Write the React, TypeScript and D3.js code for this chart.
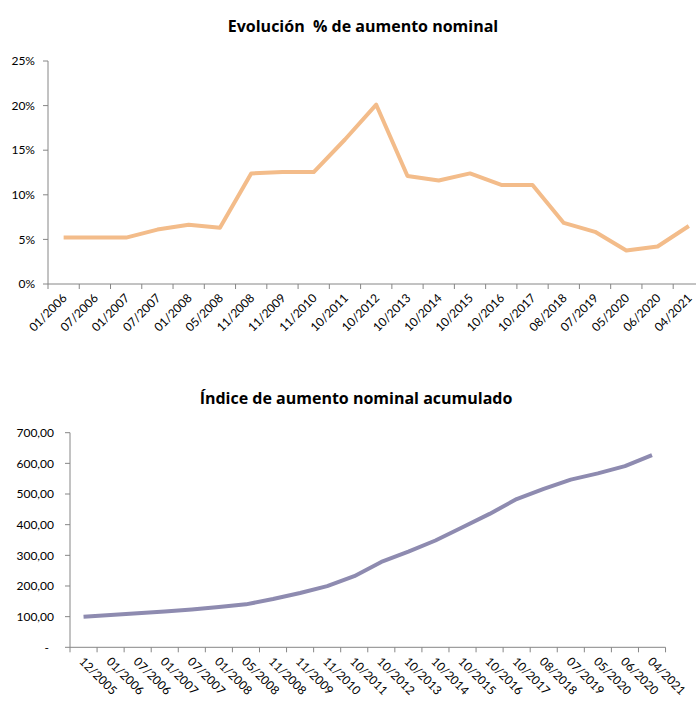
import React from "react";
import * as d3 from "d3";

const cats1 = ["01/2006","07/2006","01/2007","07/2007","01/2008","05/2008","11/2008","11/2009","11/2010","10/2011","10/2012","10/2013","10/2014","10/2015","10/2016","10/2017","08/2018","07/2019","05/2020","06/2020","04/2021"];
const pctValues = [5.2,5.2,5.2,6.1,6.65,6.3,12.4,12.55,12.55,16.2,20.1,12.1,11.6,12.4,11.1,11.1,6.85,5.85,3.75,4.2,6.5];
const pctTicks = [0,5,10,15,20,25];

const cats2 = ["12/2005", ...cats1];
const idxValues = [100,105.2,110.7,116.4,123.6,131.8,140.1,157.5,177.3,199.5,231.9,278.5,312.2,348.4,391.6,435.1,483.4,516.5,546.8,567.3,591.1,627];
const idxTicks = [0,100,200,300,400,500,600,700];

const FONT = "Lato, 'Open Sans', sans-serif";
const TITLE_FONT = "'Open Sans', Lato, sans-serif";
const AXIS = "#868686";

export default function App() {
  // top chart
  const x1 = d3.scaleBand<string>().domain(cats1).range([48, 48 + 21 * 31.26]);
  const y1 = d3.scaleLinear().domain([0, 25]).range([284, 61]);
  const line1 = d3.line<number>()
    .x((_, i) => (x1(cats1[i]) as number) + x1.bandwidth() / 2)
    .y((d) => y1(d));

  // bottom chart
  const x2 = d3.scaleBand<string>().domain(cats2).range([70, 70 + 22 * 27.07]);
  const y2 = d3.scaleLinear().domain([0, 700]).range([647.3, 432.7]);
  const line2 = d3.line<number>()
    .x((_, i) => (x2(cats2[i]) as number) + x2.bandwidth() / 2)
    .y((d) => y2(d));

  const fmtIdx = (v: number) => (v === 0 ? "-" : d3.format(".2f")(v).replace(".", ","));

  return (
    <div style={{ position: "absolute", left: 0, top: 0 }}>
      <svg width={696} height={702} style={{ display: "block", background: "#fff" }} fontFamily={FONT}>
        {/* Top title */}
        <text x={363} y={32} textAnchor="middle" fontSize={16} fontWeight="bold" fill="#000" fontFamily={TITLE_FONT} style={{ whiteSpace: "pre" }}>
          {"Evolución  % de aumento nominal"}
        </text>
        {/* Top y axis */}
        <line x1={48} x2={48} y1={y1(25)} y2={y1(0)} stroke={AXIS} />
        {pctTicks.map((t) => (
          <g key={t}>
            <line x1={43} x2={48} y1={y1(t)} y2={y1(t)} stroke={AXIS} />
            <text x={35} y={y1(t)} dy="0.35em" textAnchor="end" fontSize={12} fill="#000">{t + "%"}</text>
          </g>
        ))}
        {/* Top x axis */}
        <line x1={48} x2={710} y1={y1(0)} y2={y1(0)} stroke={AXIS} />
        {cats1.map((c) => (
          <line key={"t" + c} x1={x1(c) as number} x2={x1(c) as number} y1={y1(0)} y2={y1(0) + 5} stroke={AXIS} />
        ))}
        {cats1.map((c) => {
          const cx = (x1(c) as number) + x1.bandwidth() / 2 - 2;
          const cy = y1(0) + 9;
          return (
            <text key={"l" + c} x={cx} y={cy} transform={`rotate(-45 ${cx} ${cy})`} textAnchor="end" dy="0.7em" fontSize={12} fill="#000">{c}</text>
          );
        })}
        <path d={line1(pctValues) || ""} fill="none" stroke="#F3BC8A" strokeWidth={4} strokeLinejoin="round" />

        {/* Bottom title */}
        <text x={356} y={404} textAnchor="middle" fontSize={16} fontWeight="bold" fill="#000" fontFamily={TITLE_FONT}>
          Índice de aumento nominal acumulado
        </text>
        {/* Bottom y axis */}
        <line x1={70} x2={70} y1={y2(700)} y2={y2(0)} stroke={AXIS} />
        {idxTicks.map((t) => (
          <g key={t}>
            <line x1={65} x2={70} y1={y2(t)} y2={y2(t)} stroke={AXIS} />
            <text x={t === 0 ? 49 : 54} y={y2(t)} dy="0.35em" textAnchor="end" fontSize={12} fill="#000">{fmtIdx(t)}</text>
          </g>
        ))}
        {/* Bottom x axis */}
        <line x1={70} x2={70 + 22 * 27.07} y1={y2(0)} y2={y2(0)} stroke={AXIS} />
        {[...cats2.map((c) => x2(c) as number), 70 + 22 * 27.07].map((px, i) => (
          <line key={"bt" + i} x1={px} x2={px} y1={y2(0)} y2={y2(0) + 5} stroke={AXIS} />
        ))}
        {cats2.map((c) => {
          const cx = (x2(c) as number) + x2.bandwidth() / 2 - 2;
          const cy = y2(0) + 12;
          return (
            <text key={"bl" + c} x={cx} y={cy} transform={`rotate(45 ${cx} ${cy})`} textAnchor="start" dy="0.35em" fontSize={12} fill="#000">{c}</text>
          );
        })}
        <path d={line2(idxValues) || ""} fill="none" stroke="#8E8BB0" strokeWidth={4} strokeLinejoin="round" />
      </svg>
    </div>
  );
}
